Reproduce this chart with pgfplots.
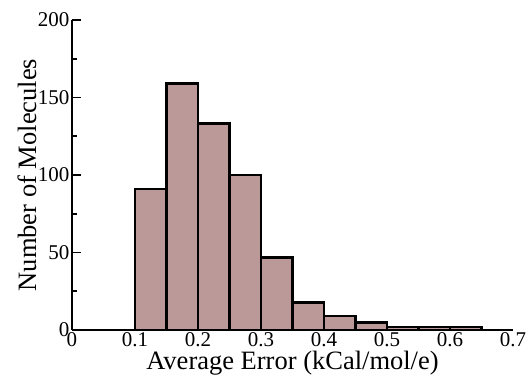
\documentclass[border=0pt]{standalone}
\usepackage{pgfplots}
\pgfplotsset{compat=1.18}
\usepackage{fontspec}
\setmainfont{Liberation Serif}
\definecolor{barfill}{RGB}{188,153,153}
\begin{document}
\begin{tikzpicture}
\useasboundingbox (-72pt,-45pt) rectangle (454pt,330pt);
\begin{axis}[
  at={(0,0)}, anchor=south west,
  scale only axis, width=441pt, height=310pt,
  xmin=0, xmax=0.7, ymin=0, ymax=200,
  axis x line=bottom, axis y line=left,
  axis line style={line width=2.2pt, -},
  xtick={0,0.1,0.2,0.3,0.4,0.5,0.6,0.7},
  xticklabels={0,0.1,0.2,0.3,0.4,0.5,0.6,0.7},
  ytick={0,50,100,150,200},
  minor ytick={25,75,125,175},
  x tick style={draw=none},
  y tick style={line width=1.6pt, black},
  tick align=inside,
  major tick length=9pt, minor tick length=5pt,
  tick label style={font=\fontsize{21}{23}\selectfont},
  /pgf/number format/assume math mode=true,
  xticklabel style={yshift=1.5pt},
  yticklabel style={xshift=1pt},
  xlabel={Average Error (kCal/mol/e)},
  ylabel={Number of Molecules},
  label style={font=\fontsize{26.5}{28}\selectfont},
  xlabel style={at={(axis description cs:0.5,0)}, anchor=base, yshift=-39.5pt},
  ylabel style={at={(axis description cs:0,0.5)}, anchor=center, yshift=45pt},
  clip=false,
]
\addplot[ybar interval, fill=barfill, draw=black, line width=2.8pt]
  coordinates {(0.10,91) (0.15,159) (0.20,133) (0.25,100) (0.30,47) (0.35,18) (0.40,9) (0.45,5) (0.50,2) (0.55,2) (0.60,2) (0.65,2)};
\end{axis}
\end{tikzpicture}
\end{document}
